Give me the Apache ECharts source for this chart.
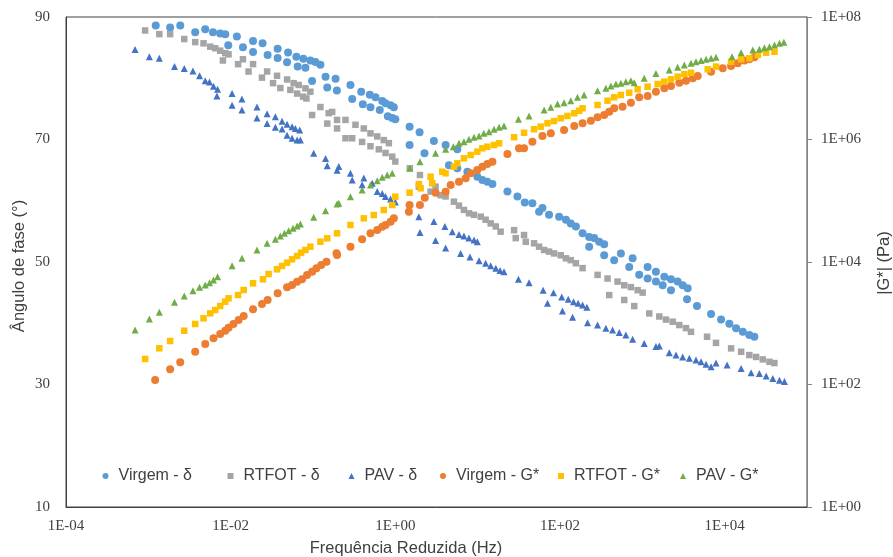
<!DOCTYPE html>
<html>
<head>
<meta charset="utf-8">
<script src="https://cdn.jsdelivr.net/npm/echarts@6/dist/echarts.min.js"></script>
<style>
  html, body { margin: 0; padding: 0; background: #ffffff; }
  #chart { width: 893px; height: 557px; }
</style>
</head>
<body>
<div id="chart"></div>
<script>
// Reduced frequency (Hz) and phase angle (deg) / |G*| (Pa) for three binder conditions

const seriesNames = ['Virgem - δ', 'RTFOT - δ', 'PAV - δ', 'Virgem - G*', 'RTFOT - G*', 'PAV - G*'];

const xTickValues = [1e-4, 1e-2, 1, 1e2, 1e4];
const xTickLabels = ['1E-04', '1E-02', '1E+00', '1E+02', '1E+04'];
const gTickValues = [1, 1e2, 1e4, 1e6, 1e8];
const gTickLabels = ['1E+00', '1E+02', '1E+04', '1E+06', '1E+08'];
const deltaTicks = [10, 30, 50, 70, 90];

// [frequency (Hz), phase angle (deg)]
const virgemDelta = [
  [1.23e-3,88.6],[1.84e-3,88.3],[2.44e-3,88.6],[3.71e-3,87.5],[4.91e-3,88.0],[6.10e-3,87.5],[7.46e-3,87.3],
  [8.59e-3,87.2],[9.35e-3,85.4],[1.19e-2,86.8],[1.41e-2,85.05],[1.87e-2,86.1],[1.87e-2,84.3],[2.44e-2,85.7],
  [2.81e-2,83.8],[3.72e-2,84.8],[3.72e-2,83.3],[4.98e-2,84.2],[4.84e-2,82.6],[6.28e-2,83.5],[6.52e-2,81.9],
  [7.64e-2,83.2],[9.29e-2,82.9],[0.107,82.65],[0.123,82.2],[8.09e-2,81.7],[9.75e-2,79.55],[0.142,80.25],
  [0.149,78.5],[0.188,79.9],[0.195,78.0],[0.285,78.9],[0.299,76.6],[0.385,77.8],[0.403,75.75],[0.490,77.3],
  [0.499,75.25],[0.574,76.9],[0.647,74.8],[0.693,76.3],[0.760,75.9],[0.875,75.6],[0.959,75.25],[0.811,73.8],
  [0.917,73.5],[1.00,73.3],[1.49,72.1],[1.97,71.2],[1.49,69.1],[2.26,67.75],[2.94,69.75],[4.08,69.1],
  [5.66,68.4],[4.48,65.8],[5.66,65.3],[7.50,64.75],[9.91,63.9],[11.4,63.4],[13.1,63.1],[15.1,62.75],
  [23.0,61.5],[30.4,60.7],[37.3,59.7],[46.2,59.6],[55.7,58.2],[61.2,58.8],[73.6,57.7],[97.5,57.4],
  [118,56.9],[135,56.3],[156,55.8],[188,54.7],[226,54.1],[260,53.9],[299,53.3],[344,52.9],[226,52.5],
  [344,51.1],[455,50.3],[549,51.4],[762,50.6],[693,49.2],[916,47.9],[1159,49.2],[1462,48.4],[1159,47.3],
  [1462,46.8],[1849,47.6],[2228,47.2],[1766,46.2],[2228,45.4],[2685,46.8],[3090,46.2],[3556,45.7],
  [3491,43.9],[4613,42.8],[6839,41.5],[9040,40.6],[11400,39.9],[13770,39.2],[16600,38.6],[19950,38.1],
  [22960,37.8]
];

const rtfotDelta = [
  [9.14e-4,87.8],[1.36e-3,87.2],[1.84e-3,87.2],[2.73e-3,86.4],[3.71e-3,85.9],[4.68e-3,85.7],[5.65e-3,85.15],
  [6.50e-3,84.9],[7.46e-3,84.5],[8.59e-3,84.1],[9.42e-3,83.9],[8.05e-3,82.9],[1.41e-2,83.1],[1.23e-2,82.3],
  [1.87e-2,82.3],[1.65e-2,81.1],[2.77e-2,81.1],[2.40e-2,80.1],[3.66e-2,80.4],[3.27e-2,79.2],[4.84e-2,79.8],
  [4.01e-2,78.4],[5.82e-2,79.2],[5.31e-2,78.1],[6.70e-2,78.9],[6.41e-2,77.5],[8.09e-2,78.35],[7.59e-2,77.0],
  [9.29e-2,77.8],[8.32e-2,76.7],[0.123,75.3],[9.75e-2,74.0],[0.155,74.3],[0.149,72.6],[0.171,74.5],
  [0.196,71.8],[0.196,73.2],[0.248,73.2],[0.248,70.2],[0.328,72.4],[0.299,70.2],[0.414,71.8],[0.395,69.6],
  [0.499,71.0],[0.499,68.9],[0.603,70.5],[0.630,68.4],[0.724,69.9],[0.760,67.8],[0.834,69.4],[0.917,67.2],
  [1.00,66.4],[1.50,65.3],[1.99,64.2],[1.93,62.3],[2.68,61.5],[3.08,62.3],[3.55,60.9],[4.08,60.7],
  [5.15,59.85],[5.93,59.2],[6.81,58.5],[7.84,57.95],[9.02,57.7],[10.9,57.4],[12.5,56.9],[14.4,56.3],
  [16.6,55.8],[19.0,54.95],[27.7,55.2],[29.0,53.9],[36.6,54.4],[38.4,53.3],[48.4,53.05],[55.7,52.5],
  [64.1,51.96],[73.6,51.7],[84.7,51.4],[102,51.1],[118,50.6],[135,50.3],[156,49.8],[188,49.0],[286,47.9],
  [378,47.3],[396,44.6],[500,46.8],[603,46.2],[726,45.9],[877,45.4],[1009,45.0],[603,43.8],[798,42.8],
  [1213,41.6],[1607,41.1],[1936,40.6],[2337,40.25],[2812,39.7],[3390,39.2],[3899,38.6],[6109,37.8],
  [7852,36.8],[11970,35.9],[15850,35.35],[19950,34.8],[24100,34.5],[29040,34.1],[34990,33.7],[40180,33.5]
];

const pavDelta = [
  [6.90e-4,84.7],[1.03e-3,83.5],[1.36e-3,83.25],[2.08e-3,81.9],[2.73e-3,81.6],[3.48e-3,81.2],[4.19e-3,80.4],
  [4.91e-3,79.6],[5.53e-3,79.4],[6.19e-3,78.7],[6.93e-3,78.2],[6.81e-3,77.1],[1.04e-2,77.5],[1.04e-2,75.6],
  [1.37e-2,76.6],[1.37e-2,74.8],[2.09e-2,75.3],[2.09e-2,73.5],[2.77e-2,74.2],[2.77e-2,72.6],[3.49e-2,73.7],
  [4.21e-2,73.0],[4.84e-2,72.5],[5.57e-2,72.1],[6.11e-2,71.8],[6.89e-2,71.55],[3.49e-2,72.0],[4.21e-2,71.7],
  [4.84e-2,70.7],[5.57e-2,70.2],[6.41e-2,69.9],[7.03e-2,69.9],[0.102,67.75],[0.142,66.9],[0.149,65.7],
  [0.196,65.0],[0.206,65.6],[0.285,64.5],[0.299,63.4],[0.395,62.6],[0.414,63.7],[0.524,62.85],[0.603,61.5],
  [0.693,61.2],[0.760,60.7],[0.875,60.3],[1.00,59.8],[1.93,57.4],[1.99,54.8],[2.94,56.6],[3.08,53.5],
  [4.00,55.8],[4.08,52.3],[4.92,54.95],[5.93,54.5],[6.81,54.25],[7.84,53.9],[9.02,53.6],[9.91,53.3],
  [6.21,51.4],[8.05,50.8],[10.4,50.2],[12.5,49.8],[14.4,49.4],[16.6,49.0],[18.7,48.6],[20.9,48.4],
  [31.3,47.2],[42.1,46.6],[62.4,45.4],[83.4,45.0],[105,44.3],[126,43.9],[146,43.5],[166,43.25],[188,43.0],
  [212,42.6],[70.5,43.25],[107,42.0],[142,41.0],[216,40.1],[286,39.7],[361,39.2],[435,38.9],[524,38.5],
  [631,38.1],[762,37.4],[1054,36.7],[1462,36.2],[1607,36.3],[2123,35.2],[2564,34.8],[3090,34.5],
  [3724,34.3],[4487,34.0],[5164,33.7],[5943,33.3],[6839,32.9],[7852,33.5],[10690,33.2],[15850,32.6],
  [20940,31.9],[26420,31.8],[31910,31.4],[38460,31.0],[46270,30.7],[53210,30.5]
];

// [frequency (Hz), |G*| (Pa)]
const virgemG = [
  [1.21e-3,118],[1.84e-3,177],[2.44e-3,230],[3.71e-3,343],[4.91e-3,458],[6.19e-3,568],[7.46e-3,667],
  [8.59e-3,755],[9.42e-3,845],[1.08e-2,972],[1.25e-2,1130],[1.44e-2,1312],[1.87e-2,1690],[2.40e-2,2061],
  [2.81e-2,2399],[3.72e-2,3083],[4.84e-2,3864],[5.57e-2,4207],[6.41e-2,4764],[7.37e-2,5212],[8.47e-2,6138],
  [9.75e-2,6950],[0.110,7889],[0.126,8933],[0.146,10110],[0.193,13870],[0.196,13000],[0.285,17780],
  [0.395,23490],[0.499,29440],[0.603,33270],[0.693,37670],[0.760,40180],[0.875,45500],[0.959,51640],
  [1.46,66220],[1.49,85310],[1.99,85310],[2.28,112200],[3.08,135300],[4.08,140600],[4.70,180700],
  [5.93,204600],[7.15,232800],[8.22,280500],[9.91,317700],[11.4,359700],[13.1,398100],[15.1,434500],
  [23.0,579400],[31.8,717800],[36.6,717800],[46.2,920400],[61.2,1.14e6],[77.3,1.26e6],[112,1.43e6],
  [149,1.66e6],[188,1.84e6],[237,2.03e6],[286,2.30e6],[344,2.51e6],[396,2.84e6],[455,3.23e6],[575,3.43e6],
  [726,3.99e6],[916,4.89e6],[1159,5.13e6],[1462,6.03e6],[1849,6.85e6],[2228,7.47e6],[2812,8.46e6],
  [3390,9.12e6],[4093,9.98e6],[4707,1.09e7],[6839,1.28e7],[9480,1.45e7],[11970,1.58e7],[14420,1.75e7],
  [17380,1.94e7],[19950,2.04e7],[22960,2.20e7]
];

const rtfotG = [
  [9.14e-4,261],[1.36e-3,390],[1.84e-3,513],[2.73e-3,755],[3.71e-3,972],[4.68e-3,1205],[5.65e-3,1452],
  [6.50e-3,1644],[7.46e-3,1914],[8.59e-3,2249],[9.42e-3,2553],[1.23e-2,2891],[1.44e-2,3491],[1.87e-2,4487],
  [2.47e-2,5224],[2.89e-2,6368],[3.66e-2,7603],[4.21e-2,8610],[4.84e-2,9750],[5.57e-2,11070],
  [6.41e-2,12530],[7.16e-2,14190],[8.09e-2,15710],[9.29e-2,17780],[0.123,21430],[0.149,24380],
  [0.196,29440],[0.285,40180],[0.414,51640],[0.547,58480],[0.724,70630],[0.917,85310],[1.00,116400],
  [1.49,135300],[1.93,187500],[2.03,159600],[2.68,247200],[2.81,192800],[3.72,297800],[4.08,280500],
  [5.15,359700],[5.66,408300],[6.81,493200],[8.22,558500],[9.91,632400],[11.4,717800],[13.1,762100],
  [15.8,812800],[18.2,867000],[27.7,1.09e6],[36.6,1.29e6],[48.4,1.47e6],[58.3,1.62e6],[70.5,1.84e6],
  [84.7,2.00e6],[102,2.22e6],[123,2.42e6],[149,2.68e6],[171,2.95e6],[188,3.23e6],[286,3.66e6],[378,4.30e6],
  [455,4.89e6],[549,5.33e6],[693,5.81e6],[877,6.61e6],[1159,7.28e6],[1535,8.05e6],[1849,8.79e6],
  [2228,9.61e6],[2685,1.06e7],[3236,1.17e7],[3899,1.23e7],[6223,1.40e7],[7852,1.55e7],[11970,1.86e7],
  [15850,2.04e7],[19950,2.12e7],[25290,2.40e7],[31910,2.61e7],[40270,2.71e7]
];

const pavG = [
  [6.90e-4,776],[1.03e-3,1172],[1.36e-3,1510],[2.08e-3,2198],[2.73e-3,2786],[3.48e-3,3396],[4.19e-3,3864],
  [4.91e-3,4207],[5.53e-3,4592],[6.19e-3,5082],[6.93e-3,5754],[1.04e-2,8710],[1.37e-2,11480],
  [2.09e-2,15710],[2.77e-2,20180],[3.49e-2,23490],[4.01e-2,26550],[4.49e-2,29440],[5.06e-2,32430],
  [5.72e-2,35480],[6.41e-2,38730],[7.03e-2,41690],[0.102,53700],[0.142,68870],[0.196,88510],[0.206,90780],
  [0.285,116400],[0.395,149900],[0.499,180700],[0.603,212300],[0.693,241500],[0.796,263000],[0.917,280500],
  [1.50,338800],[1.99,434500],[3.08,595700],[4.08,691800],[5.06,762100],[5.93,867000],[6.81,920400],
  [7.84,1.01e6],[9.02,1.09e6],[10.4,1.14e6],[11.9,1.26e6],[13.7,1.34e6],[15.8,1.47e6],[18.2,1.58e6],
  [20.9,1.66e6],[31.3,2.14e6],[42.1,2.42e6],[64.1,3.03e6],[77.3,3.36e6],[93.3,3.80e6],[112,3.99e6],
  [135,4.30e6],[163,4.89e6],[196,5.33e6],[286,6.27e6],[361,6.85e6],[415,7.47e6],[478,8.05e6],[549,8.27e6],
  [631,8.79e6],[726,9.12e6],[798,8.46e6],[1054,9.98e6],[1462,1.20e7],[2123,1.36e7],[2685,1.51e7],
  [3236,1.64e7],[3899,1.75e7],[4487,1.86e7],[5164,1.94e7],[5943,2.04e7],[6839,2.12e7],[7852,2.20e7],
  [12300,2.25e7],[15850,2.61e7],[21980,2.89e7],[26420,2.97e7],[30410,3.16e7],[34990,3.27e7],[40270,3.49e7],
  [46270,3.72e7],[52360,3.86e7]
];

const seriesData = [virgemDelta, rtfotDelta, pavDelta, virgemG, rtfotG, pavG];
const seriesColors = ['#5B9BD5', '#A5A5A5', '#4472C4', '#ED7D31', '#FFC000', '#70AD47'];
const seriesSymbols = ['circle', 'rect', 'triangle', 'circle', 'rect', 'triangle'];
const seriesSizes = [8, 6.5, 7, 8, 6.5, 7];
const seriesAxis = [0, 0, 0, 1, 1, 1];

// legend marker positions along the row inside the plot
const legendLeft = [97.5, 222.5, 343.5, 435, 553, 675];

const serifFont = '"Liberation Serif", "Times New Roman", serif';
const sansFont = '"Liberation Sans", Arial, sans-serif';
const textColor = '#404040';

function labelFrom(values, labels) {
  return function (v) {
    const lv = Math.log10(v);
    for (let i = 0; i < values.length; i++) {
      if (Math.abs(lv - Math.log10(values[i])) < 1e-6) return labels[i];
    }
    return '';
  };
}

const chart = echarts.init(document.getElementById('chart'), null, { renderer: 'canvas' });

const option = {
  animation: false,
  backgroundColor: '#ffffff',
  grid: {
    left: 66, right: 86, top: 17, bottom: 50,
    show: true, borderColor: '#404040', borderWidth: 1, backgroundColor: 'transparent'
  },
  legend: seriesNames.map((name, i) => ({
    data: [name],
    left: legendLeft[i],
    top: 463,
    orient: 'horizontal',
    itemWidth: 6,
    itemHeight: 6,
    itemGap: 0,
    textStyle: { fontFamily: sansFont, fontSize: 16, color: textColor, padding: [0, 0, 0, 5] },
    selectedMode: false
  })),
  xAxis: {
    type: 'log',
    logBase: 10,
    min: 1e-4,
    max: 1e5,
    interval: 2,
    axisLine: { show: true, onZero: false, lineStyle: { color: '#404040', width: 1 } },
    axisTick: { show: false },
    splitLine: { show: false },
    minorTick: { show: false },
    axisLabel: {
      margin: 12,
      fontFamily: serifFont, fontSize: 15, color: textColor,
      formatter: labelFrom(xTickValues, xTickLabels)
    }
  },
  yAxis: [
    {
      type: 'value',
      min: deltaTicks[0],
      max: deltaTicks[deltaTicks.length - 1],
      interval: deltaTicks[1] - deltaTicks[0],
      position: 'left',
      axisLine: { show: true, lineStyle: { color: '#404040', width: 1 } },
      axisTick: { show: false },
      splitLine: { show: false },
      axisLabel: { margin: 16, fontFamily: serifFont, fontSize: 15, color: textColor }
    },
    {
      type: 'log',
      logBase: 10,
      min: 1,
      max: 1e8,
      interval: 2,
      position: 'right',
      axisLine: { show: true, lineStyle: { color: '#868686', width: 1 } },
      axisTick: { show: true, inside: false, length: 5, lineStyle: { color: '#868686' } },
      splitLine: { show: false },
      minorTick: { show: false },
      axisLabel: {
        margin: 14,
        fontFamily: serifFont, fontSize: 15, color: textColor,
        formatter: labelFrom(gTickValues, gTickLabels)
      }
    }
  ],
  graphic: [
    {
      type: 'text', x: 406, y: 548,
      style: {
        text: 'Frequência Reduzida (Hz)', fontFamily: sansFont, fontSize: 16.5,
        fill: textColor, textAlign: 'center', textVerticalAlign: 'middle'
      }
    },
    {
      type: 'text', x: 19, y: 266, rotation: Math.PI / 2,
      style: {
        text: 'Ângulo de fase (°)', fontFamily: sansFont, fontSize: 16.5,
        fill: textColor, textAlign: 'center', textVerticalAlign: 'middle'
      }
    },
    {
      type: 'text', x: 884, y: 263, rotation: Math.PI / 2,
      style: {
        text: '|G*| (Pa)', fontFamily: sansFont, fontSize: 16.5,
        fill: textColor, textAlign: 'center', textVerticalAlign: 'middle'
      }
    }
  ],
  series: seriesNames.map((name, i) => ({
    name: name,
    type: 'scatter',
    yAxisIndex: seriesAxis[i],
    symbol: seriesSymbols[i],
    symbolSize: seriesSizes[i],
    itemStyle: { color: seriesColors[i], opacity: 1 },
    emphasis: { disabled: true },
    data: seriesData[i]
  }))
};

chart.setOption(option);
</script>
</body>
</html>
